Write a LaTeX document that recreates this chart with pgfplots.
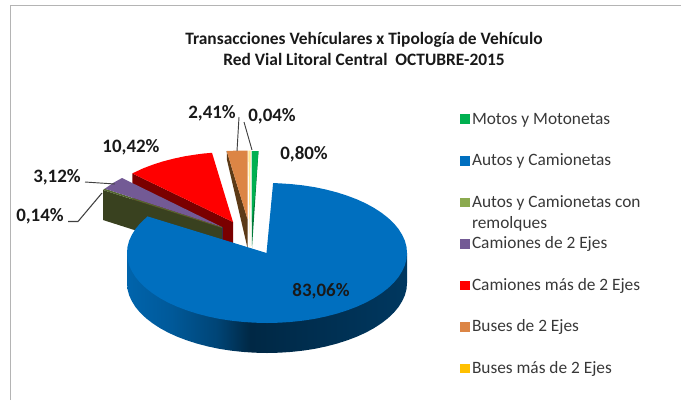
\documentclass[border=0pt]{standalone}
\usepackage{fontspec}
\setmainfont{Carlito}
\usepackage{pgfplots}
\pgfplotsset{compat=1.18}
\definecolor{cMotos}{HTML}{00B050}
\definecolor{cMotosD}{HTML}{007A38}
\definecolor{cAutos}{HTML}{006FBF}
\definecolor{cRemol}{HTML}{8BAA4F}
\definecolor{cRemolD}{HTML}{39411F}
\definecolor{cCam}{HTML}{735A95}
\definecolor{cCamM}{HTML}{FF0000}
\definecolor{cCamMD}{HTML}{7A0000}
\definecolor{cBus}{HTML}{DC8545}
\definecolor{cBusD}{HTML}{5C3A17}
\definecolor{cBusM}{HTML}{FFC000}
\definecolor{cLeader}{HTML}{404040}
\definecolor{cFrame}{HTML}{B4B4B4}
\pgfdeclarehorizontalshading{bluewall}{100bp}{
  color(0bp)=(cAutos!90!black);
  color(25bp)=(cAutos!90!black);
  color(33bp)=(cAutos!80!black);
  color(41bp)=(cAutos!62!black);
  color(47bp)=(cAutos!36!black);
  color(75bp)=(cAutos!50!black);
  color(100bp)=(cAutos!50!black)}
% pie outlines, in pixels of the reference (y runs down)
\pgfplotstableread{
x y
266.5 253
273.1 183.1
279.2 183.3
291.3 184.1
303.2 185.4
314.9 187.2
326.2 189.6
337 192.4
347.3 195.7
357 199.4
366 203.5
374.2 208
381.7 212.9
388.2 218
393.9 223.4
398.6 229.1
402.2 234.9
404.9 240.8
406.5 246.9
407 253
406.5 259.1
404.9 265.2
402.2 271.1
398.6 276.9
393.9 282.6
388.2 288
381.7 293.1
374.2 298
366 302.5
357 306.6
347.3 310.3
337 313.6
326.2 316.4
314.9 318.8
303.2 320.6
291.3 321.9
279.2 322.7
267 323
254.8 322.7
242.7 321.9
230.8 320.6
219.1 318.8
207.8 316.4
197 313.6
186.7 310.3
177 306.6
168 302.5
159.8 298
152.3 293.1
145.8 288
140.1 282.6
135.4 276.9
131.8 271.1
129.1 265.2
127.5 259.1
127 253
127.5 246.9
129.1 240.8
131.8 234.9
135.4 229.1
140.1 223.4
145.8 218
147.6 216.4
}\autostop
\pgfplotstableread{
x y
407 253
407 283
406.5 289.1
404.9 295.2
402.2 301.1
398.6 306.9
393.9 312.6
388.2 318
381.7 323.1
374.2 328
366 332.5
357 336.6
347.3 340.3
337 343.6
326.2 346.4
314.9 348.8
303.2 350.6
291.3 351.9
279.2 352.7
267 353
254.8 352.7
242.7 351.9
230.8 350.6
219.1 348.8
207.8 346.4
197 343.6
186.7 340.3
177 336.6
168 332.5
159.8 328
152.3 323.1
145.8 318
140.1 312.6
135.4 306.9
131.8 301.1
129.1 295.2
127.5 289.1
127 283
127 253
}\autowall
\begin{document}
\begin{tikzpicture}
\useasboundingbox (0,0) rectangle (510.75pt,300pt);
\begin{axis}[
  at={(0,0)}, anchor=south west,
  scale only axis,
  width=510.75pt, height=300pt,
  xmin=0, xmax=681, ymin=0, ymax=400,
  y dir=reverse,
  hide axis,
  clip=false,
  legend style={
    at={(axis cs:460,109)}, anchor=north west,
    draw=none, fill=none,
    font=\fontsize{13}{13}\selectfont\color{black!78},
    row sep=16.55pt,
    inner sep=0pt,
    /tikz/every even column/.append style={column sep=7.6pt},
    cells={anchor=west}
  },
  legend image code/.code={\fill[#1] (0pt,-3.2pt) rectangle (6.4pt,3.2pt);},
]
% legend entries, in the order of the reference
\addlegendimage{cMotos}\addlegendentry{\strut Motos y Motonetas}
\addlegendimage{cAutos}\addlegendentry{\strut Autos y Camionetas}
\addlegendimage{cRemol}\addlegendentry{\strut\smash{\parbox[t]{160pt}{\baselineskip=15.7pt Autos y Camionetas con\\remolques}}}
\addlegendimage{cCam}\addlegendentry{\strut Camiones de 2 Ejes}
\addlegendimage{cCamM}\addlegendentry{\strut Camiones más de 2 Ejes}
\addlegendimage{cBus}\addlegendentry{\strut Buses de 2 Ejes}
\addlegendimage{cBusM}\addlegendentry{\strut Buses más de 2 Ejes}

% frame of the sheet
\addplot[forget plot, cFrame, line width=1.1pt] coordinates {(10.5,400) (10.5,5.5) (681,5.5)};

% camiones mas de 2 ejes
\addplot[forget plot, fill=cCamMD, draw=none] coordinates {(132.3,173.4) (233,222) (233,252) (132.3,203.4)} -- cycle;
\addplot[forget plot, fill=cCamM, draw=none] coordinates {(233,222) (212,152.8) (203.9,153.5) (196.8,154.4) (185.1,156.2) (173.8,158.6) (163,161.4) (152.7,164.7) (143,168.4) (132.3,173.4)} -- cycle;

% camiones de 2 ejes y remolques
\addplot[forget plot, fill=cRemolD, draw=none] coordinates {(103,190) (222,228) (222,258) (103,220)} -- cycle;
\addplot[forget plot, fill=cRemol!60!black, draw=none] coordinates {(103,190) (104.8,188.7) (222,227) (222,228)} -- cycle;
\addplot[forget plot, fill=cCam, draw=none] coordinates {(222,227) (122,178) (113,183) (104.8,188.7)} -- cycle;
\addplot[forget plot, cCam!50!black, line width=0.5pt] coordinates {(222,227) (222,240)};

% buses de 2 ejes
\addplot[forget plot, fill=cBusD, draw=none] coordinates {(226.7,151) (247.5,219) (247.5,248) (227,160)} -- cycle;
\addplot[forget plot, fill=cBus, draw=none] coordinates {(226.7,151) (237,150.6) (247.5,150.6) (247.5,219)} -- cycle;
% buses mas de 2 ejes
\addplot[forget plot, fill=cBusM!45!white, draw=none] coordinates {(248.3,150.6) (250.6,150.6) (250,248)} -- cycle;
% motos
\addplot[forget plot, fill=cMotosD, draw=none] coordinates {(251.8,151) (258.5,151) (252,248)} -- cycle;
\addplot[forget plot, fill=cMotos, draw=none] coordinates {(251.8,151) (258.5,151) (255,195) (251.8,222)} -- cycle;

% autos
\addplot[forget plot, shade, shading=bluewall, draw=none] table {\autowall} -- cycle;
\addplot[forget plot, fill=cAutos, draw=none] table {\autostop} -- cycle;

% leader lines
\addplot[forget plot, cLeader, line width=0.7pt] coordinates {(239,117) (237,151)};
\addplot[forget plot, cLeader, line width=0.7pt] coordinates {(244,122) (252,150)};
\addplot[forget plot, cLeader, line width=0.7pt] coordinates {(85,182) (115,184)};
\addplot[forget plot, cLeader, line width=0.8pt] coordinates {(68,221.5) (78,221.5) (102,193)};

% title
\node[font=\fontsize{13.05}{15.7}\selectfont\bfseries, align=center, text=black!90] at (axis cs:364,48.5)
  {Transacciones Vehículares x Tipología de Vehículo\\Red Vial Litoral Central\ \ OCTUBRE-2015};

% data labels
\begin{scope}[every node/.style={font=\fontsize{14.2}{14.2}\selectfont\bfseries, text=black!90}]
\node at (axis cs:212,113.5) {2,41\%};
\node at (axis cs:272,116.5) {0,04\%};
\node at (axis cs:304,154) {0,80\%};
\node at (axis cs:131,147.5) {10,42\%};
\node at (axis cs:57,177.5) {3,12\%};
\node at (axis cs:40,216.5) {0,14\%};
\node at (axis cs:321,291.5) {83,06\%};
\end{scope}
\end{axis}
\end{tikzpicture}
\end{document}
